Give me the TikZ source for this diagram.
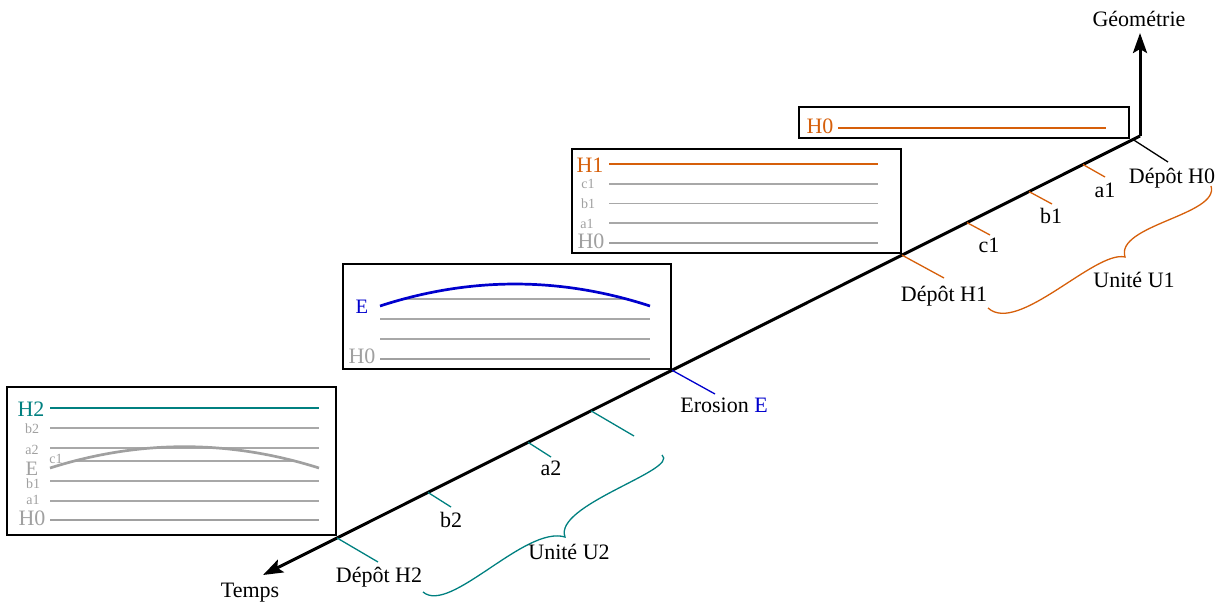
\documentclass[tikz,border=0pt]{standalone}
\usepackage{fontspec}
\setmainfont{Liberation Serif}
\usetikzlibrary{arrows.meta,calc}
\definecolor{orng}{RGB}{214,95,10}
\definecolor{tealc}{RGB}{0,128,128}
\definecolor{bluec}{RGB}{0,0,205}
\definecolor{grayc}{RGB}{160,160,160}
\definecolor{grayl}{RGB}{168,168,168}
\begin{document}
\begin{tikzpicture}[x=1pt,y=-1pt,
  big/.style={font=\fontsize{22}{24}\selectfont, inner sep=0pt, anchor=base},
  mid/.style={font=\fontsize{20.5}{22}\selectfont, inner sep=0pt, anchor=base},
  small/.style={font=\fontsize{14}{15}\selectfont, text=grayc, inner sep=0pt, anchor=base},
  frame/.style={draw=black, line width=1.2pt, inner sep=0pt},
  axisline/.style={line width=3pt, -{Stealth[length=20pt,width=14pt,inset=4pt]}},
  tick/.style={line width=1.3pt},
  thinl/.style={draw=grayl, line width=1.4pt},
  thickg/.style={draw=grayc, line width=2.7pt},
  hor/.style={line width=2.7pt},
  bracel/.style={line width=1.3pt}]
\useasboundingbox (0,0) rectangle (1221,605);

% ---- boxes ----
\node[frame, minimum width=329pt, minimum height=148pt] (box1) at (171.5,461) {};
\node[frame, minimum width=328pt, minimum height=105pt] (box2) at (507,316.5) {};
\node[frame, minimum width=329pt, minimum height=104pt] (box3) at (736.5,201) {};
\node[frame, minimum width=330pt, minimum height=31pt] (box4) at (964,122.5) {};

% box 4
\node[big, text=orng] (b4h0) at (820,133) {H0};
\draw[hor, orng] (838,128) -- (1106,128);

% box 3
\node[big, text=orng] (b3h1) at (590,172) {H1};
\node[small] (b3c1) at (588,188.3) {c1};
\node[small] (b3b1) at (588,208) {b1};
\node[small] (b3a1) at (587,228) {a1};
\node[big, text=grayc] (b3h0) at (591,248) {H0};
\draw[hor, orng] (609,164) -- (878,164);
\draw[thinl] (609,184) -- (878,184);
\draw[thinl] (609,203.5) -- (878,203.5);
\draw[thinl] (609,223) -- (878,223);
\draw[thickg] (609,243) -- (878,243);

% box 2
\node[mid, text=bluec] (b2e) at (362,313) {E};
\node[big, text=grayc] (b2h0) at (362,363) {H0};
\draw[thinl] (404,299) -- (626,299);
\draw[thinl] (380,319) -- (650,319);
\draw[thinl] (380,339) -- (650,339);
\draw[thickg] (380,359) -- (650,359);
\draw[hor, bluec] (380,306) .. controls (470,276.7) and (560,276.7) .. (650,306);

% box 1
\node[big, text=tealc] (b1h2) at (31,416) {H2};
\node[small] (b1b2) at (32,433) {b2};
\node[small] (b1a2) at (32,454) {a2};
\node[small] (b1c1) at (56,463) {c1};
\node[mid, text=grayc] (b1e) at (32,475) {E};
\node[small] (b1b1) at (33,488) {b1};
\node[small] (b1a1) at (33,504) {a1};
\node[big, text=grayc] (b1h0) at (32,525) {H0};
\draw[hor, tealc] (50,408) -- (319,408);
\draw[thinl] (50,428) -- (319,428);
\draw[thinl] (50,448) -- (319,448);
\draw[thinl] (75,461) -- (294,461);
\draw[thinl] (50,481) -- (319,481);
\draw[thinl] (50,501) -- (319,501);
\draw[thickg] (50,520) -- (319,520);
\draw[thickg] (50,468) .. controls (139.7,439.6) and (229.3,439.6) .. (319,468);

% ---- axes ----
\coordinate (O) at (1140,136);
\coordinate (Ttip) at (263,575);
\coordinate (Gtip) at (1140,33);
\draw[axisline] (O) -- (Ttip);
\draw[axisline] (O) -- (Gtip);
\node[big] (geo) at (1139,27) {Géométrie};
\node[big] (temps) at (250,597) {Temps};

% ---- ticks ----
\coordinate (tH0) at ($(O)!0.008!(Ttip)$);
\coordinate (ta1) at ($(O)!0.065!(Ttip)$);
\coordinate (tb1) at ($(O)!0.1266!(Ttip)$);
\coordinate (tc1) at ($(O)!0.1973!(Ttip)$);
\coordinate (tH1) at ($(O)!0.2714!(Ttip)$);
\coordinate (tE)  at ($(O)!0.5336!(Ttip)$);
\coordinate (tc2) at ($(O)!0.626!(Ttip)$);
\coordinate (ta2) at ($(O)!0.6978!(Ttip)$);
\coordinate (tb2) at ($(O)!0.8119!(Ttip)$);
\coordinate (tH2) at ($(O)!0.9156!(Ttip)$);

\coordinate (eH0) at (1168,162);
\coordinate (ea1) at (1105,177);
\coordinate (eb1) at (1052,204);
\coordinate (ec1) at (990,235);
\coordinate (eH1) at (944,278);
\coordinate (eE)  at (715,394);
\coordinate (ec2) at (634,436);
\coordinate (ea2) at (551,457);
\coordinate (eb2) at (451,507);
\coordinate (eH2) at (378,562);

\draw[tick, black] (tH0) -- (eH0);
\draw[tick, orng] (ta1) -- (ea1);
\draw[tick, orng] (tb1) -- (eb1);
\draw[tick, orng] (tc1) -- (ec1);
\draw[tick, orng] (tH1) -- (eH1);
\draw[tick, bluec] (tE) -- (eE);
\draw[tick, tealc] (tc2) -- (ec2);
\draw[tick, tealc] (ta2) -- (ea2);
\draw[tick, tealc] (tb2) -- (eb2);
\draw[tick, tealc] (tH2) -- (eH2);

\node[big] (lH0) at (1172,183) {Dépôt H0};
\node[big] (la1) at (1105,197) {a1};
\node[big] (lb1) at (1051,223) {b1};
\node[big] (lc1) at (989,252) {c1};
\node[big] (lH1) at (944,301) {Dépôt H1};
\node[big] (lE)  at (724,412) {Erosion \textcolor{bluec}{E}};
\node[big] (la2) at (551,475) {a2};
\node[big] (lb2) at (451,527) {b2};
\node[big] (lH2) at (379,582) {Dépôt H2};

% ---- braces ----
\draw[bracel, orng] (988,308) .. controls (1018,335) and (1095,250) .. (1125,257)
  .. controls (1115,225) and (1220,215) .. (1211,186);
\node[big] (lU1) at (1134,287) {Unité U1};
\draw[bracel, tealc] (423,592) .. controls (450,615) and (525,525) .. (565,537)
  .. controls (553,505) and (680,470) .. (662,455);
\node[big] (lU2) at (569,559) {Unité U2};
\end{tikzpicture}
\end{document}
